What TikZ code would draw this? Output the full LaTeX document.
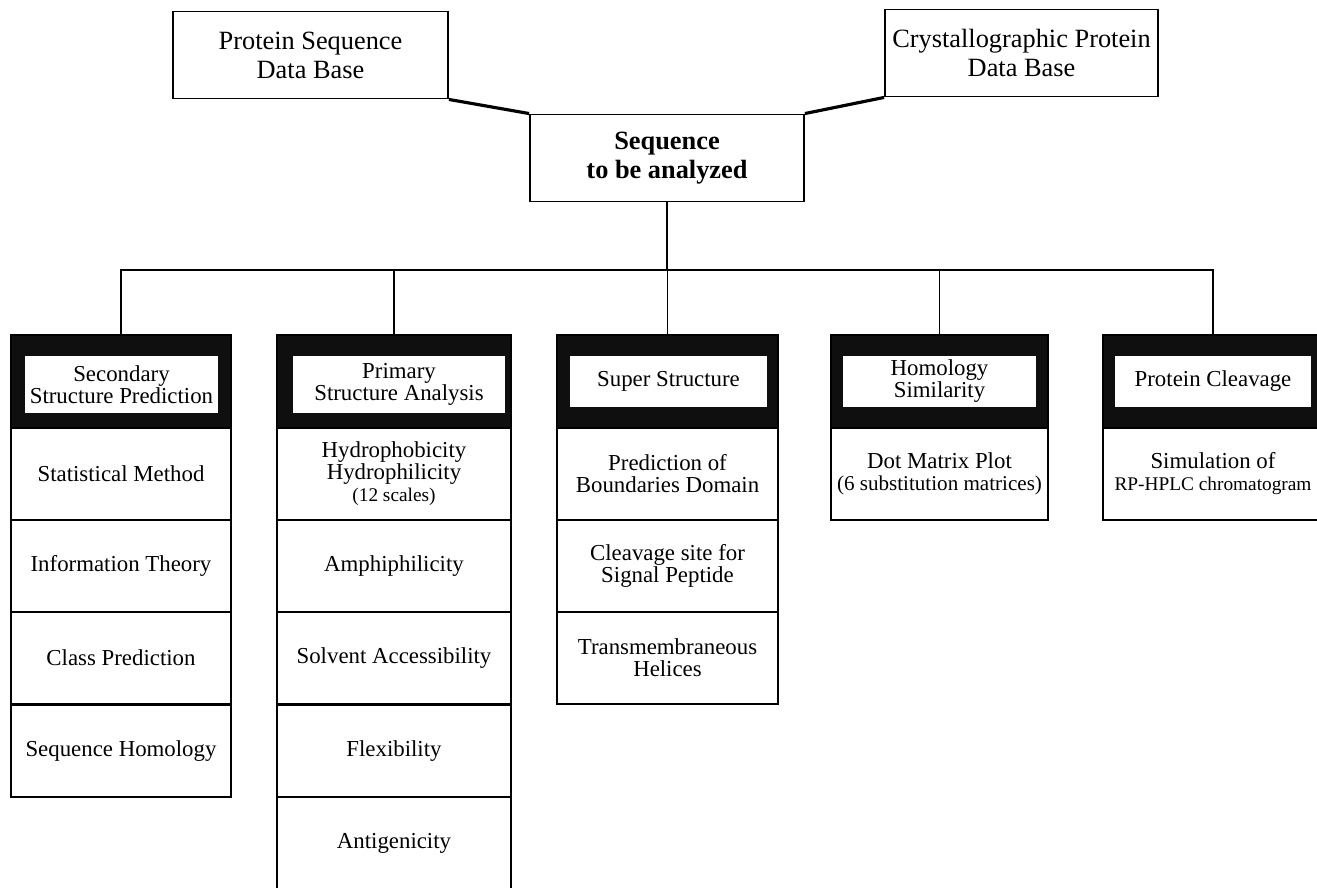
\documentclass[tikz,border=0pt]{standalone}
\usepackage{fontspec}
\setmainfont{Liberation Serif}

\begin{document}
\begin{tikzpicture}[x=0.02cm,y=-0.02cm,
	dbbox/.style={shape=rectangle,draw=black,line width=1.1pt,inner sep=0pt,minimum height=1.74cm,align=center,font=\fontsize{15}{16.5}\selectfont},
	headbox/.style={shape=rectangle,fill=black!94,draw=black,line width=1.1pt,inner sep=0pt,minimum height=1.86cm},
	titlebox/.style={shape=rectangle,fill=white,inner sep=0pt,align=center,font=\fontsize{13}{12.5}\selectfont},
	cellbox/.style={shape=rectangle,draw=black,line width=1.1pt,inner sep=0pt,minimum height=1.84cm,align=center,font=\fontsize{13}{12.5}\selectfont},
	link/.style={draw=black,line width=1.1pt},
	feed/.style={draw=black,line width=1.8pt}]
	\useasboundingbox (0,0) rectangle (1317,888);

	\node[dbbox,minimum width=5.5cm] (protSeq) at (310.5,55) {Protein Sequence\\Data Base};
	\node[dbbox,minimum width=5.46cm] (crystProt) at (1021.5,53) {Crystallographic Protein\\Data Base};
	\node[dbbox,minimum width=5.48cm,font=\bfseries\fontsize{15}{16.5}\selectfont] (seqAna) at (667,158) {Sequence\\to be analyzed};

	\node[headbox,minimum width=4.4cm] (secHead) at (121,381.5) {};
	\node[titlebox,minimum width=3.86cm,minimum height=1.14cm] (secTitle) at (121.5,384.5) {Secondary\\Structure Prediction};
	\node[cellbox,minimum width=4.4cm] (secStat) at (121,474) {Statistical Method};
	\node[cellbox,minimum width=4.4cm] (secInfo) at (121,566) {Information Theory};
	\node[cellbox,minimum width=4.4cm] (secClass) at (121,658) {Class Prediction};
	\node[cellbox,minimum width=4.4cm] (secHom) at (121,751) {Sequence Homology};

	\node[headbox,minimum width=4.68cm] (priHead) at (394,381.5) {};
	\node[titlebox,minimum width=4.24cm,minimum height=1.14cm] (priTitle) at (399,384.5) {Primary\\Structure Analysis};
	\node[cellbox,minimum width=4.68cm] (priHydro) at (394,474) {Hydrophobicity\\Hydrophilicity\\{\fontsize{11}{12}\selectfont (12 scales)}};
	\node[cellbox,minimum width=4.68cm] (priAmph) at (394,566) {Amphiphilicity};
	\node[cellbox,minimum width=4.68cm] (priSolv) at (394,658) {Solvent Accessibility};
	\node[cellbox,minimum width=4.68cm] (priFlex) at (394,751) {Flexibility};
	\node[cellbox,minimum width=4.68cm] (priAnti) at (394,843) {Antigenicity};

	\node[headbox,minimum width=4.42cm] (supHead) at (667.5,381.5) {};
	\node[titlebox,minimum width=3.94cm,minimum height=1.02cm] (supTitle) at (668.5,381.5) {Super Structure};
	\node[cellbox,minimum width=4.42cm] (supDom) at (667.5,474) {Prediction of\\Boundaries Domain};
	\node[cellbox,minimum width=4.42cm] (supSig) at (667.5,566) {Cleavage site for\\Signal Peptide};
	\node[cellbox,minimum width=4.42cm] (supHel) at (667.5,658) {Transmembraneous\\Helices};

	\node[headbox,minimum width=4.34cm] (homHead) at (939.5,381.5) {};
	\node[titlebox,minimum width=3.86cm,minimum height=1.02cm] (homTitle) at (939.5,381.5) {Homology\\Similarity};
	\node[cellbox,minimum width=4.34cm] (homDot) at (939.5,474) {Dot Matrix Plot\\{\fontsize{12}{12}\selectfont (6 substitution matrices)}};

	\node[headbox,minimum width=4.4cm] (clvHead) at (1213,381.5) {};
	\node[titlebox,minimum width=3.92cm,minimum height=1.02cm] (clvTitle) at (1213,381.5) {Protein Cleavage};
	\node[cellbox,minimum width=4.4cm] (clvSim) at (1213,474) {Simulation of\\{\fontsize{11}{12}\selectfont RP-HPLC chromatogram}};

	\coordinate (bus) at (667,270);

	\path[feed] (protSeq.south east) edge (seqAna.north west);
	\path[feed] (seqAna.north east) edge (crystProt.south west);
	\path[link] (seqAna.south) edge (bus);
	\draw[link] (secHead.north) |- (bus) -| (clvHead.north);
	\foreach \hd in {priHead,supHead,homHead}
		\draw[link] (\hd.north) -- (\hd.north |- bus);
\end{tikzpicture}
\end{document}
